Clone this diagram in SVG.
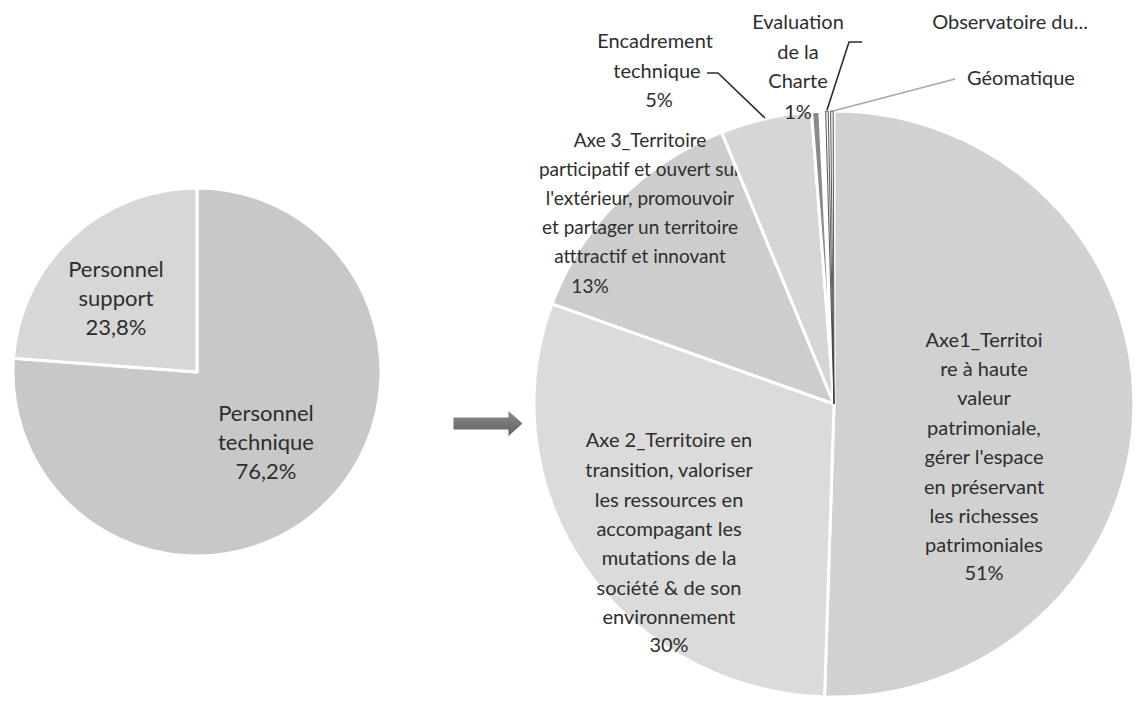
<svg xmlns="http://www.w3.org/2000/svg" width="1144" height="721" viewBox="0 0 1144 721">
<defs>
<style>
.sl{stroke:#ffffff;stroke-width:3;stroke-linejoin:round}
.tiny{stroke:#333333;stroke-width:0.8;fill:#f2f2f2}
.t{font-family:Lato,"Liberation Sans",sans-serif;font-size:20px;fill:#2e2e2e;text-anchor:middle}
.ts{font-size:19px}
.tl{font-family:Lato,"Liberation Sans",sans-serif;font-size:22px;fill:#2e2e2e;text-anchor:middle}
.lead{fill:none;stroke:#2b2b2b;stroke-width:1.6}
.leadl{fill:none;stroke:#a8a8a8;stroke-width:1.6}
</style>
<linearGradient id="ag" x1="0" y1="0" x2="0" y2="1">
<stop offset="0" stop-color="#8c8c8c"/>
<stop offset="1" stop-color="#5f5f5f"/>
</linearGradient>
</defs>
<rect x="0" y="0" width="1144" height="721" fill="#ffffff"/>

<g id="left-pie">
<g id="personnel-technique">
<path class="sl" fill="#c8c8c8" d="M197,372 L197,188 A184,184 0 1 1 13.52,358.14 Z"/>
<text class="tl" x="266" y="421">Personnel</text>
<text class="tl" x="266" y="450">technique</text>
<text class="tl" x="266" y="479">76,2%</text>
</g>
<g id="personnel-support">
<path class="sl" fill="#d7d7d7" d="M197,372 L13.52,358.14 A184,184 0 0 1 197,188 Z"/>
<text class="tl" x="116" y="277">Personnel</text>
<text class="tl" x="116" y="306">support</text>
<text class="tl" x="116" y="335">23,8%</text>
</g>
</g>

<g id="right-pie">
<g id="axe1">
<path class="sl" fill="#d1d1d1" d="M834,404 L834,111 A300,293 0 1 1 824.58,696.86 Z"/>
<text class="t" x="984" y="347">Axe1_Territoi</text>
<text class="t" x="984" y="376">re à haute</text>
<text class="t" x="984" y="405">valeur</text>
<text class="t" x="984" y="435">patrimoniale,</text>
<text class="t" x="984" y="464">gérer l'espace</text>
<text class="t" x="984" y="494">en préservant</text>
<text class="t" x="984" y="523">les richesses</text>
<text class="t" x="984" y="552">patrimoniales</text>
<text class="t" x="984" y="580">51%</text>
</g>
<g id="axe2">
<path class="sl" fill="#dbdbdb" d="M834,404 L824.58,696.86 A300,293 0 0 1 552.09,303.79 Z"/>
<text class="t" x="669" y="447">Axe 2_Territoire en</text>
<text class="t" x="669" y="477">transition, valoriser</text>
<text class="t" x="669" y="507">les ressources en</text>
<text class="t" x="669" y="536">accompagant les</text>
<text class="t" x="669" y="565">mutations de la</text>
<text class="t" x="669" y="595">société &amp; de son</text>
<text class="t" x="669" y="624">environnement</text>
<text class="t" x="669" y="652">30%</text>
</g>
<g id="axe3">
<path class="sl" fill="#cdcdcd" d="M834,404 L552.09,303.79 A300,293 0 0 1 721.62,132.34 Z"/>
<text class="t ts" x="640" y="147">Axe 3_Territoire</text>
<text class="t ts" x="640" y="176">participatif et ouvert sur</text>
<text class="t ts" x="640" y="205">l'extérieur, promouvoir</text>
<text class="t ts" x="640" y="234">et partager un territoire</text>
<text class="t ts" x="640" y="263">atttractif et innovant</text>
<text class="t ts" x="590" y="293">13%</text>
</g>
<g id="encadrement">
<path class="sl" fill="#d6d6d6" d="M834,404 L721.62,132.34 A300,293 0 0 1 811.51,111.83 Z"/>
<text class="t" x="655" y="48">Encadrement</text>
<text class="t" x="657" y="78">technique</text>
<text class="t" x="659" y="107">5%</text>
</g>
<g id="evaluation">
<path class="sl" fill="#8a8a8a" stroke-width="1.5" d="M834,404 L811.51,111.83 A300,293 0 0 1 819.87,111.33 Z"/>
<text class="t" x="798" y="29">Evaluation</text>
<text class="t" x="798" y="59">de la</text>
<text class="t" x="798" y="88">Charte</text>
<text class="t" x="798" y="119">1%</text>
</g>
<g id="observatoire">
<path class="tiny" d="M834,404 L825.62,111.11 A300,293 0 0 1 828.24,111.05 Z"/>
<text class="t" x="1010" y="29">Observatoire du...</text>
</g>
<g id="geomatique">
<path class="tiny" d="M834,404 L830.60,111.02 A300,293 0 0 1 833.21,111.00 Z"/>
<text class="t" x="1021" y="85">Géomatique</text>
</g>
</g>

<g id="connectors">
<polyline class="lead" points="707,73 718,73 765,118"/>
<polyline class="lead" points="827,110 849,42 862,42"/>
<polyline class="leadl" points="833,111 955,79"/>
<path id="arrow" fill="url(#ag)" stroke="#ffffff" stroke-width="1" d="M453,417 L508,417 L508,410 L523,423.5 L508,437 L508,430 L453,430 Z"/>
</g>
</svg>
